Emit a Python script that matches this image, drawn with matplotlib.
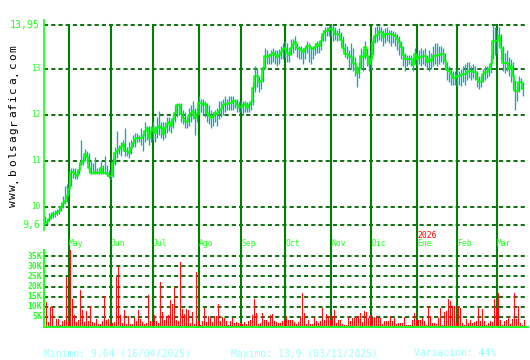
import matplotlib
matplotlib.use('Agg')
import matplotlib.pyplot as plt
import numpy as np
from matplotlib.transforms import blended_transform_factory

# --- DATA (daily, mid Apr 2025 -> mid Mar 2026) ---
close = [
    9.64, 9.66, 9.74, 9.80, 9.85, 9.85, 9.88, 9.90, 10.00, 10.08,
    10.13, 10.24, 10.39, 10.76, 10.76, 10.70, 10.67, 10.80, 10.95, 11.00,
    11.15, 11.07, 10.83, 10.74, 10.74, 10.76, 10.74, 10.74, 10.83, 10.74,
    10.74, 10.72, 10.67, 10.67, 10.95, 11.17, 11.22, 11.26, 11.30, 11.37,
    11.22, 11.20, 11.17, 11.28, 11.39, 11.48, 11.50, 11.50, 11.50, 11.54,
    11.65, 11.70, 11.50, 11.65, 11.72, 11.61, 11.70, 11.76, 11.72, 11.59,
    11.70, 11.80, 11.83, 11.76, 11.91, 12.04, 12.20, 12.20, 12.02, 11.93,
    11.87, 11.83, 11.98, 12.04, 12.09, 11.93, 12.02, 12.26, 12.26, 12.20,
    12.24, 12.04, 11.98, 11.93, 11.98, 12.04, 12.02, 12.09, 12.13, 12.20,
    12.24, 12.24, 12.26, 12.26, 12.30, 12.30, 12.22, 12.17, 12.17, 12.20,
    12.24, 12.15, 12.20, 12.28, 12.57, 12.85, 12.85, 12.72, 12.74, 13.02,
    13.28, 13.26, 13.28, 13.30, 13.35, 13.30, 13.26, 13.30, 13.37, 13.42,
    13.46, 13.35, 13.30, 13.45, 13.54, 13.57, 13.45, 13.43, 13.40, 13.37,
    13.43, 13.50, 13.50, 13.46, 13.43, 13.48, 13.54, 13.50, 13.60, 13.75,
    13.83, 13.83, 13.87, 13.87, 13.85, 13.76, 13.76, 13.74, 13.62, 13.45,
    13.33, 13.33, 13.28, 13.26, 13.13, 13.10, 12.91, 13.02, 13.28, 13.26,
    13.48, 13.28, 13.10, 13.22, 13.57, 13.72, 13.74, 13.80, 13.80, 13.68,
    13.76, 13.76, 13.76, 13.76, 13.74, 13.72, 13.65, 13.58, 13.48, 13.30,
    13.20, 13.20, 13.20, 13.20, 13.07, 13.33, 13.22, 13.26, 13.26, 13.28,
    13.28, 13.15, 13.20, 13.17, 13.28, 13.28, 13.30, 13.30, 13.33, 13.33,
    13.17, 12.98, 12.94, 12.89, 12.80, 12.80, 12.85, 12.85, 12.87, 12.89,
    12.89, 12.93, 12.96, 12.94, 12.92, 12.92, 12.78, 12.70, 12.70, 12.89,
    12.93, 12.93, 13.00, 13.10, 13.61, 13.60, 13.60, 13.72, 13.45, 13.13,
    13.13, 13.13, 13.00, 13.05, 12.85, 12.52, 12.52, 12.70, 12.72, 12.55,
]
high = [
    9.80, 9.72, 9.86, 9.88, 9.90, 9.92, 9.95, 10.00, 10.05, 10.24,
    10.45, 10.50, 10.55, 10.85, 10.85, 10.85, 10.80, 10.95, 11.45, 11.10,
    11.25, 11.22, 11.17, 11.00, 10.95, 11.07, 10.85, 10.85, 11.00, 10.90,
    11.10, 10.90, 10.80, 10.75, 11.05, 11.30, 11.65, 11.35, 11.40, 11.45,
    11.70, 11.30, 11.40, 11.45, 11.55, 11.60, 11.60, 11.55, 11.70, 11.60,
    11.85, 11.75, 11.76, 11.75, 11.85, 11.75, 11.95, 12.09, 11.85, 11.85,
    11.85, 11.95, 11.95, 11.90, 12.00, 12.20, 12.25, 12.25, 12.25, 12.10,
    12.05, 11.95, 12.15, 12.20, 12.30, 12.15, 12.15, 12.40, 12.35, 12.35,
    12.30, 12.25, 12.20, 12.10, 12.05, 12.10, 12.15, 12.30, 12.30, 12.35,
    12.40, 12.35, 12.40, 12.40, 12.40, 12.35, 12.33, 12.30, 12.30, 12.30,
    12.30, 12.28, 12.28, 12.35, 12.70, 13.05, 13.00, 12.85, 12.80, 13.05,
    13.45, 13.40, 13.35, 13.40, 13.45, 13.40, 13.40, 13.42, 13.50, 13.55,
    13.60, 13.55, 13.45, 13.65, 13.65, 13.70, 13.55, 13.50, 13.50, 13.45,
    13.50, 13.60, 13.55, 13.50, 13.50, 13.55, 13.60, 13.60, 13.70, 13.85,
    13.90, 13.90, 13.92, 13.98, 13.95, 13.90, 13.85, 13.88, 13.80, 13.72,
    13.55, 13.50, 13.40, 13.55, 13.45, 13.25, 13.05, 13.15, 13.45, 13.40,
    13.60, 13.45, 13.30, 13.40, 13.70, 13.90, 13.92, 13.92, 13.90, 13.85,
    13.88, 13.90, 13.85, 13.85, 13.82, 13.80, 13.75, 13.70, 13.60, 13.50,
    13.35, 13.30, 13.30, 13.30, 13.25, 13.45, 13.35, 13.40, 13.45, 13.40,
    13.45, 13.30, 13.40, 13.35, 13.50, 13.55, 13.55, 13.50, 13.50, 13.45,
    13.35, 13.15, 13.05, 13.00, 12.95, 12.95, 13.00, 12.95, 13.00, 13.05,
    13.10, 13.15, 13.15, 13.05, 13.10, 13.05, 12.95, 12.85, 12.85, 13.00,
    13.05, 13.05, 13.10, 13.30, 13.95, 13.90, 13.85, 13.90, 13.75, 13.50,
    13.35, 13.40, 13.25, 13.20, 13.15, 12.75, 12.65, 12.85, 12.80, 12.70,
]
low = [
    9.60, 9.62, 9.68, 9.72, 9.76, 9.78, 9.82, 9.85, 9.90, 9.96,
    10.05, 10.10, 10.25, 10.45, 10.62, 10.60, 10.60, 10.70, 10.90, 10.90,
    11.00, 10.95, 10.75, 10.70, 10.70, 10.70, 10.70, 10.70, 10.72, 10.70,
    10.70, 10.66, 10.62, 10.60, 10.65, 10.90, 11.05, 11.15, 11.10, 11.20,
    11.10, 11.10, 11.05, 11.15, 11.30, 11.30, 11.40, 11.40, 11.35, 11.20,
    11.40, 11.45, 11.33, 11.40, 11.45, 11.40, 11.50, 11.55, 11.50, 11.45,
    11.50, 11.60, 11.65, 11.60, 11.70, 11.85, 11.95, 12.00, 11.85, 11.80,
    11.70, 11.70, 11.75, 11.85, 11.90, 11.55, 11.85, 12.00, 12.05, 12.00,
    11.95, 11.85, 11.80, 11.70, 11.75, 11.85, 11.75, 11.90, 11.95, 12.00,
    12.05, 12.10, 12.10, 12.10, 12.10, 12.15, 12.05, 12.05, 12.05, 12.00,
    12.05, 12.05, 12.05, 12.10, 12.20, 12.50, 12.60, 12.50, 12.55, 12.70,
    13.00, 13.10, 13.10, 13.10, 13.15, 13.10, 13.05, 13.10, 13.20, 13.20,
    13.25, 13.15, 13.15, 13.30, 13.35, 13.40, 13.25, 13.20, 13.20, 13.10,
    13.20, 13.35, 13.15, 13.10, 13.20, 13.30, 13.35, 13.35, 13.40, 13.60,
    13.60, 13.70, 13.70, 13.72, 13.60, 13.62, 13.60, 13.62, 13.48, 13.38,
    13.25, 13.20, 13.00, 13.00, 12.95, 12.85, 12.60, 12.80, 13.00, 12.95,
    13.20, 13.05, 12.95, 13.00, 13.30, 13.55, 13.58, 13.62, 13.60, 13.50,
    13.55, 13.60, 13.55, 13.50, 13.55, 13.50, 13.40, 13.30, 13.20, 13.05,
    12.95, 13.05, 13.10, 13.05, 12.95, 13.10, 13.05, 13.10, 13.05, 13.10,
    13.05, 13.00, 12.95, 13.00, 13.05, 13.10, 13.05, 13.10, 13.15, 13.10,
    13.00, 12.75, 12.70, 12.65, 12.65, 12.65, 12.62, 12.65, 12.62, 12.70,
    12.65, 12.75, 12.80, 12.75, 12.80, 12.75, 12.60, 12.55, 12.60, 12.70,
    12.75, 12.80, 12.85, 12.90, 13.20, 13.30, 13.35, 13.50, 13.20, 12.95,
    12.90, 12.95, 12.85, 12.70, 12.55, 12.10, 12.30, 12.50, 12.55, 12.40,
]
volume_k = [
    12.6, 2.6, 10, 10, 0.5, 3.8, 4, 1, 3, 3.5,
    24.5, 3, 38, 13.6, 6, 2.5, 3.5, 18.4, 8.5, 2.5,
    8, 3, 10.3, 2.5, 2, 4, 1.5, 1.5, 3, 15.4,
    3.5, 4, 1.5, 2, 2.5, 24.5, 30, 6, 2, 8.5,
    1.5, 5.5, 1.5, 1.5, 4.5, 3, 8.5, 4, 2.5, 1.5,
    2, 16, 3, 2.5, 6, 3, 2, 22, 7.5, 3.5,
    5.5, 6, 13.5, 11.5, 20, 3.5, 3, 32, 8.8, 6.3,
    8.8, 8.3, 2.2, 7.6, 1.3, 27.4, 3, 0.8, 3, 9.5,
    2.7, 5.5, 4.3, 2.7, 5.3, 5.3, 11.5, 3, 4.7, 4.3,
    3, 1, 3, 4.3, 2, 2.7, 2, 2, 1.7, 2.7,
    1.7, 3, 3.6, 6, 13.9, 7, 1.3, 2.2, 7, 3.6,
    3.6, 2.7, 6, 6.3, 3, 2.7, 2.2, 2.2, 3, 3.6,
    5.3, 3.6, 3.3, 3.3, 2.7, 1.3, 2.7, 5, 16.9, 7,
    1.7, 3.3, 1.7, 1.7, 5, 3, 2.2, 3, 9.3, 3.6,
    6.4, 5.5, 3.6, 5.5, 8.5, 2, 3.6, 3.6, 1.7, 1,
    1, 5, 3, 4.3, 4.3, 4.7, 5.3, 7, 2.7, 8,
    7.5, 4.3, 6, 4.3, 5, 5.6, 4.3, 4.3, 1.7, 3,
    3, 3, 5.3, 3, 4.3, 1.7, 2, 2, 2, 4.7,
    1, 1, 1, 3.6, 7, 3.6, 3.6, 3.6, 4.3, 3,
    1, 10.3, 5.3, 2, 2, 1.3, 4.3, 9.3, 1, 7.3,
    8, 13.6, 13, 10.3, 10.3, 2, 10.3, 9.3, 2, 1,
    4, 2, 3.3, 2, 2.7, 3, 9.3, 3, 8.8, 3,
    1, 2, 3, 2.7, 14, 9.3, 16.9, 3.3, 1, 3,
    3.6, 4.7, 1.7, 4, 16.6, 4, 10.6, 2, 1, 3.6,
]
# first trading day of each month (index into the daily series)
month_start = [12, 33, 54, 77, 98, 120, 143, 163, 186, 206, 226]
month_names = ['May', 'Jun', 'Jul', 'Ago', 'Sep', 'Oct', 'Nov', 'Dic', 'Ene', 'Feb', 'Mar']
price_ticks = [9.6, 10, 11, 12, 13, 13.95]
price_labels = ['9,6', '10', '11', '12', '13', '13,95']
vol_ticks = [5, 10, 15, 20, 25, 30, 35]
vol_labels = ['5K', '10K', '15K', '20K', '25K', '30K', '35K']
footer = ['Minimo: 9,64 (16/04/2025)', 'Maximo: 13,9 (03/11/2025)', 'Variación: 44%']
site = 'www.bolsagrafica.com'

plt.rcParams['font.family'] = 'DejaVu Sans Mono'
plt.rcParams['lines.scale_dashes'] = False

W, H = 530, 360
LIME = '#22ff22'
GRID = '#006400'
MLINE = '#008000'


def box(l, t, r, b):
    return [l / W, 1 - b / H, (r - l) / W, (b - t) / H]


fig = plt.figure(figsize=(W / 100, H / 100), dpi=100)
ax = fig.add_axes(box(44, 20, 528, 230))
axv = fig.add_axes(box(44, 250, 528, 327))

x = np.arange(len(close))
pos = np.array(month_start) + 0.25

# price panel
ax.set_xlim(-0.25, 241.75)
ax.set_ylim(9.6 - 5 / 46, 13.95 + 5 / 46)
for v in price_ticks:
    ax.axhline(v, color=GRID, lw=1.3, ls=(0, (3, 2.2)), zorder=1)
for m in pos:
    ax.axvline(m, ymin=-20 / 210, ymax=205 / 210, color=MLINE, lw=1.5,
               clip_on=False, zorder=1)
ax.vlines(x, low, high, color='#18a6b6', lw=0.95, zorder=2)
ax.step(x, close, where='mid', color='#00ff00', lw=1.2, zorder=3)

tr = blended_transform_factory(ax.transAxes, ax.transData)
for v, lab in zip(price_ticks, price_labels):
    big = lab in ('9,6', '13,95')
    ax.text(-4 / 484, v, lab, transform=tr, ha='right', va='center',
            color=LIME, fontsize=7.2 if big else 5.6)

ax.set_xticks([])
ax.set_yticks([])
for s in ['top', 'right', 'bottom']:
    ax.spines[s].set_visible(False)
ax.spines['left'].set_color(LIME)
ax.spines['left'].set_linewidth(1.3)
ax.patch.set_alpha(0)

# month labels between the panels
trm = blended_transform_factory(ax.transData, fig.transFigure)
for m, name in zip(pos, month_names):
    ax.text(m, 1 - 244 / H, name, transform=trm, ha='left', va='center',
            color=LIME, fontsize=5.8)
    if name == 'Ene':
        ax.text(m, 1 - 235 / H, '2026', transform=trm, ha='left', va='center',
                color='#ff0000', fontsize=5.8)

# volume panel
axv.set_xlim(-0.25, 241.75)
axv.set_ylim(0, 76.5 / 2.01)
for v in vol_ticks:
    axv.axhline(v, color=GRID, lw=1.3, ls=(0, (3, 2.2)), zorder=1)
for m in pos:
    axv.axvline(m, color=MLINE, lw=1.5, zorder=1)
axv.vlines(x + 0.5, 0, volume_k, color='#ff1010', lw=0.55,
           antialiased=False, zorder=2)
trv = blended_transform_factory(axv.transAxes, axv.transData)
for v, lab in zip(vol_ticks, vol_labels):
    axv.text(-2 / 484, v, lab, transform=trv, ha='right', va='center',
             color=LIME, fontsize=5.8, fontweight='bold')
axv.set_xticks([])
axv.set_yticks([])
for s in ['top', 'right']:
    axv.spines[s].set_visible(False)
for s in ['left', 'bottom']:
    axv.spines[s].set_color(LIME)
    axv.spines[s].set_linewidth(1.5)
axv.patch.set_alpha(0)

# vertical site name, letter spaced
for k, ch in enumerate(site):
    fig.text(13 / W, 1 - (204 - k * 8.2) / H, ch, rotation=90,
             ha='center', va='center', color='black', fontsize=8)

# footer
for t, px in zip(footer, [44, 231, 414]):
    fig.text(px / W, 1 - 353 / H, t, ha='left', va='center',
             color='#99ffff', fontsize=7)

fig.savefig('out.png', dpi=100, facecolor='white')
